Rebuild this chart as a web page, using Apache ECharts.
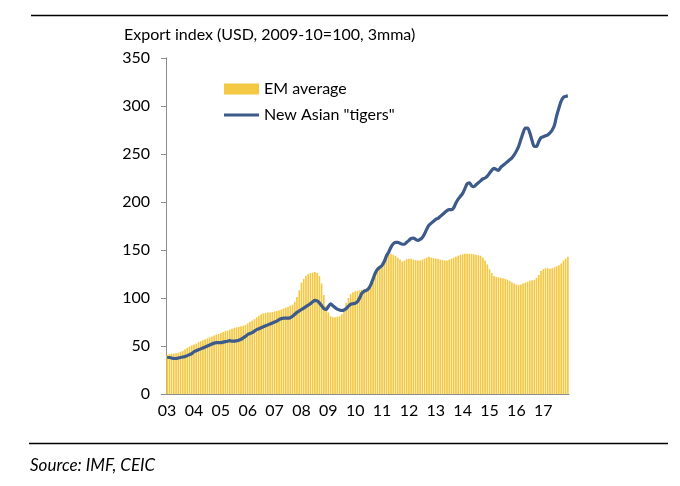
<!DOCTYPE html>
<html>
<head>
<meta charset="utf-8">
<script src="https://cdn.jsdelivr.net/npm/echarts@6/dist/echarts.min.js"></script>
<style>
html,body{margin:0;padding:0;background:#fff;}
#c{width:680px;height:486px;}
</style>
</head>
<body>
<div id="c"></div>
<script>
// Monthly values, Jan 2003 - Dec 2017
var years = ['03','04','05','06','07','08','09','10','11','12','13','14','15','16','17'];

var emAverage = [
  41, 41.5, 42, 42, 42.5, 43, 44, 45, 46.5, 48, 49.5, 50.5,          // 2003
  51.5, 52.5, 54, 55, 56, 57, 58, 59, 60, 61, 62, 62.5,              // 2004
  63.5, 64.5, 65.5, 66, 67, 68, 69, 69.5, 70, 70.5, 71, 72,          // 2005
  73.5, 75, 76.5, 78, 80, 81.5, 83, 84, 84.5, 85, 85, 85.5,          // 2006
  86, 86.5, 87, 88, 89, 90, 91, 92, 93, 96, 101, 108,                // 2007
  116, 120, 123, 125, 126, 126.5, 127, 126, 123, 115, 103, 92,       // 2008
  85, 81, 80, 80, 80.5, 81, 83, 87, 95, 100, 104, 106,               // 2009
  107, 107.5, 108, 108.5, 109, 109, 110, 112, 116, 122, 128, 133,    // 2010
  137, 140, 143, 145, 146, 145, 144, 142, 140, 138, 139, 140.5,      // 2011
  141, 141, 140, 139.5, 139, 139, 140, 141, 142, 143, 142, 141.5,    // 2012
  141, 140.5, 140, 139.5, 139, 139, 140, 141, 142, 143, 144, 145,    // 2013
  145.5, 146, 146, 146, 146, 145.5, 145, 144.5, 144, 142, 139, 135,  // 2014
  130, 126, 123, 122, 121.5, 121, 120.5, 120, 119, 118, 116.5, 115,  // 2015
  114, 113.5, 114, 115, 116, 117, 118, 118.5, 119, 121, 124, 128,    // 2016
  130, 131, 131, 130.5, 131, 132, 133, 134, 136, 139, 141, 143       // 2017
];

var asianTigers = [
  38, 38, 37.5, 37, 37, 37.5, 38, 38.5, 39, 40, 41, 42,              // 2003
  44, 45, 46, 47, 48, 49, 50, 51, 52, 53, 53.5, 53.5,                // 2004
  53.5, 54, 54.5, 55, 55.5, 55, 55, 55.5, 56, 57, 58.5, 60,          // 2005
  62, 63, 64, 65.5, 67, 68, 69, 70, 71, 72, 73, 74,                  // 2006
  75, 76, 77.5, 78.5, 79, 79, 79, 79.5, 81, 83, 85, 86.5,            // 2007
  88, 89.5, 91, 92.5, 94, 96, 97.5, 97, 95, 92, 89, 88,              // 2008
  91, 94, 92, 90, 88.5, 87.5, 87, 87.5, 89, 91.5, 93.5, 94,          // 2009
  94.5, 96, 100, 105, 107, 108, 110, 114, 120, 126, 130, 132,        // 2010
  134, 138, 144, 148, 153, 156.5, 158, 158, 157, 156, 156, 158,      // 2011
  160, 162, 162.5, 161, 160, 161, 163, 167, 172, 176, 178, 180,      // 2012
  182, 183, 185, 187, 189, 191, 192, 192, 194, 199, 203, 206,        // 2013
  209, 214, 219, 220, 217, 216, 218, 220, 222, 224, 225, 227,        // 2014
  230, 233, 235, 234, 233, 236, 238, 240, 242, 244, 246, 249,        // 2015
  253, 258, 265, 272, 277, 277, 272, 264, 258, 258, 263, 267,        // 2016
  268, 269, 270, 272, 275, 280, 290, 298, 305, 309, 310, 310.5       // 2017
];

var yTicks = [0, 50, 100, 150, 200, 250, 300, 350];

var months = [];
years.forEach(function (y) {
  for (var m = 1; m <= 12; m++) months.push(y + '-' + (m < 10 ? '0' + m : m));
});

var FONT = 'Lato';
var FS = 16;
var chart = echarts.init(document.getElementById('c'), null, {renderer: 'canvas'});
chart.setOption({
  animation: false,
  backgroundColor: '#fff',
  textStyle: {fontFamily: FONT},
  grid: {left: 166, top: 58, right: 111, bottom: 92, containLabel: false},
  legend: [
    {
      left: 224,
      top: 81,
      padding: 0,
      itemWidth: 35,
      itemHeight: 11,
      textStyle: {fontFamily: FONT, fontSize: FS, color: '#000'},
      data: [{name: 'EM average', icon: 'rect'}]
    },
    {
      left: 224,
      top: 107,
      padding: 0,
      itemWidth: 35,
      itemHeight: 3,
      textStyle: {fontFamily: FONT, fontSize: FS, color: '#000'},
      data: [{name: 'New Asian "tigers"', icon: 'rect', itemStyle: {color: '#3C5A8A'}}]
    }
  ],
  xAxis: {
    type: 'category',
    data: months,
    boundaryGap: true,
    axisLine: {lineStyle: {color: '#8c8c8c', width: 1}},
    axisTick: {
      length: 5,
      lineStyle: {color: '#8c8c8c'},
      interval: function (i) { return i % 12 === 0; }
    },
    axisLabel: {
      interval: function (i) { return i % 12 === 0; },
      formatter: function (v) { return v.slice(0, 2); },
      color: '#000', fontSize: FS, fontFamily: FONT, margin: 9
    },
    splitLine: {show: false}
  },
  yAxis: {
    type: 'value',
    min: yTicks[0],
    max: yTicks[yTicks.length - 1],
    interval: 50,
    axisLine: {show: true, lineStyle: {color: '#8c8c8c', width: 1}},
    axisTick: {show: true, length: 5, lineStyle: {color: '#8c8c8c'}},
    axisLabel: {color: '#000', fontSize: FS, fontFamily: FONT, margin: 16},
    splitLine: {show: false}
  },
  series: [
    {
      name: 'EM average',
      type: 'bar',
      data: emAverage,
      barCategoryGap: '25%',
      itemStyle: {color: '#F3C843'},
      z: 1
    },
    {
      name: 'New Asian "tigers"',
      type: 'line',
      data: asianTigers,
      smooth: 0.3,
      symbol: 'none',
      lineStyle: {color: '#3C5A8A', width: 3.2},
      itemStyle: {color: '#3C5A8A'},
      z: 3
    }
  ],
  graphic: [
    {type: 'line', shape: {x1: 31, y1: 15.5, x2: 668, y2: 15.5}, style: {stroke: '#000', lineWidth: 1.5}},
    {type: 'line', shape: {x1: 29, y1: 443.5, x2: 668, y2: 443.5}, style: {stroke: '#000', lineWidth: 1.5}},
    {type: 'text', left: 124, top: 27, style: {text: 'Export index (USD, 2009-10=100, 3mma)', font: FS + 'px ' + FONT, fill: '#000'}},
    {type: 'text', left: 30, top: 457, style: {text: 'Source: IMF, CEIC', font: 'italic 17px ' + FONT, fill: '#000'}}
  ]
});
</script>
</body>
</html>
